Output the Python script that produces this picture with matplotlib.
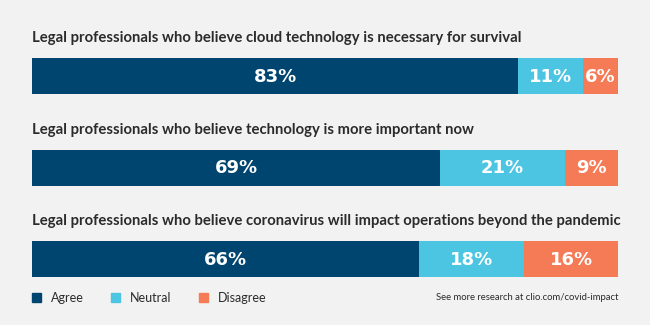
import matplotlib
matplotlib.use("Agg")
import matplotlib.pyplot as plt
from matplotlib.patches import Patch
import numpy as np

titles = [
    "Legal professionals who believe cloud technology is necessary for survival",
    "Legal professionals who believe technology is more important now",
    "Legal professionals who believe coronavirus will impact operations beyond the pandemic",
]
categories = ["Agree", "Neutral", "Disagree"]
agree = [83, 69, 66]
neutral = [11, 21, 18]
disagree = [6, 9, 16]
colors = ["#004570", "#4cc5e3", "#f57a56"]
footnote = "See more research at clio.com/covid-impact"

bg = "#f2f2f2"
fig = plt.figure(figsize=(6.5, 3.25), dpi=100, facecolor=bg)
W, H = 650, 325
x0, x1 = 32, 618
ax = fig.add_axes([x0 / W, 0, (x1 - x0) / W, 1])
ax.set_facecolor(bg)

row_px = [76, 167.5, 259]
spacing = 91.5
ax.set_xlim(0, 100)
ax.set_ylim((H - row_px[0]) / spacing, -row_px[0] / spacing)
ax.axis("off")

series = [agree, neutral, disagree]
totals = np.sum(series, axis=0)
rows = np.arange(len(titles))
left = np.zeros(len(titles))
bh = 36 / spacing
for vals, col, name in zip(series, colors, categories):
    vals = np.array(vals, dtype=float)
    widths = vals / totals * 100
    ax.barh(rows, widths, left=left, height=bh, color=col, label=name)
    for r, (l, w, v) in enumerate(zip(left, widths, vals)):
        ax.text(l + w / 2, r + 0.01, f"{int(v)}%", ha="center", va="center",
                color="white", fontsize=13, fontweight="bold", family="DejaVu Sans")
    left += widths

for r, t in enumerate(titles):
    ax.text(0, r - 38 / spacing, t, ha="left", va="center", color="#2b2b2b",
            fontsize=10.7, fontweight="bold", family="Lato")

leg = fig.legend(handles=[Patch(color=c) for c in colors], labels=categories,
                 loc="center left", bbox_to_anchor=(x0 / W, 1 - (298 / H)),
                 ncol=3, frameon=False, borderaxespad=0, borderpad=0,
                 handlelength=0.7, handleheight=0.7, handletextpad=0.8,
                 columnspacing=2.2, prop={"family": "Lato", "size": 9})
for t in leg.get_texts():
    t.set_color("#2b2b2b")

ax.text(100, (298 - row_px[0]) / spacing, footnote, ha="right", va="center",
        color="#2b2b2b", fontsize=6.8, family="Lato")

fig.savefig("out.png", dpi=100, facecolor=bg)
